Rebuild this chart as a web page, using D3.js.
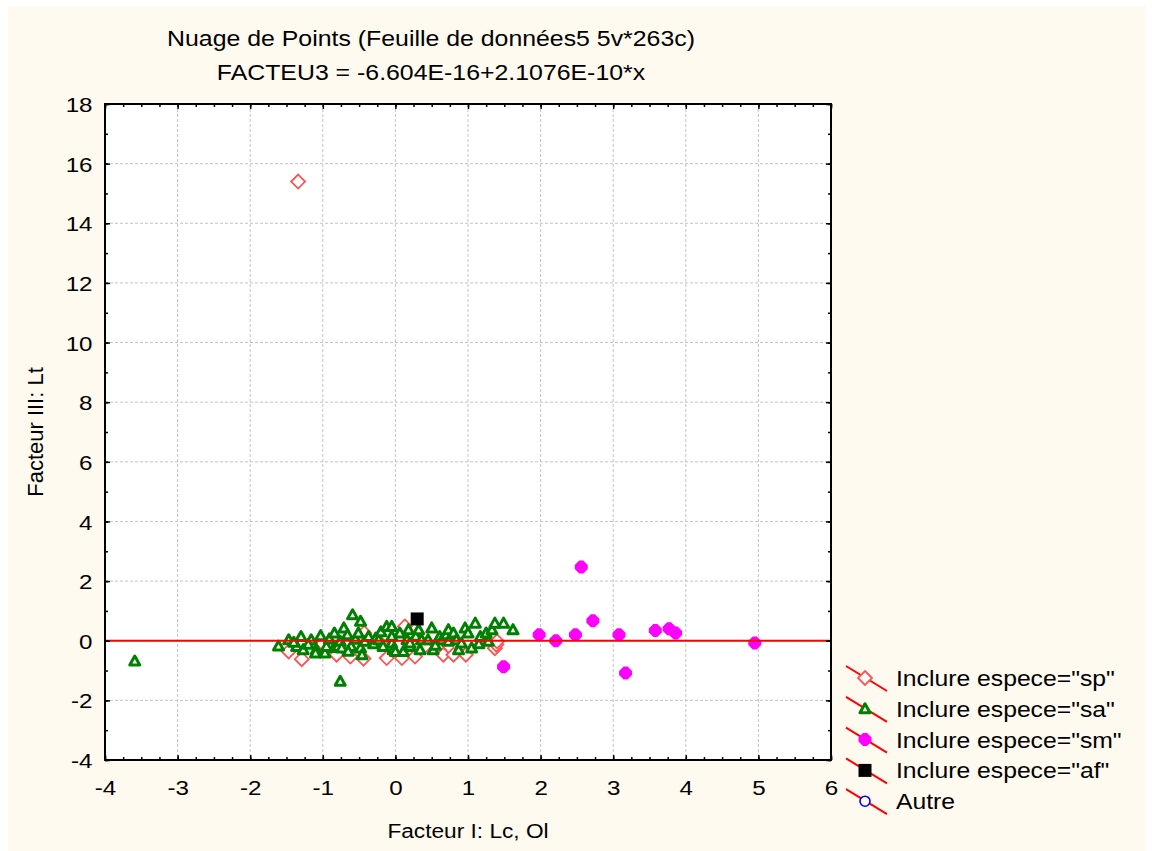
<!DOCTYPE html>
<html>
<head>
<meta charset="utf-8">
<script src="https://cdn.jsdelivr.net/npm/d3@7"></script>
<style>
body { margin: 0; background: #ffffff; }
text { font-family: "Liberation Sans", Arial, sans-serif; fill: #000; }
</style>
</head>
<body>
<div id="chart"></div>
<script>
// values: [Facteur I, Facteur III]
const spPoints = [
    [-1.34, 15.4], [-1.47, -0.36], [-1.29, -0.62], [-1.00, -0.10], [-0.90, -0.30], [-0.81, -0.47],
    [-0.62, -0.53], [-0.44, -0.60], [-0.43, 0.26], [-0.20, -0.10], [-0.12, -0.58], [0.09, -0.58],
    [0.13, 0.48], [0.20, 0.10], [0.27, -0.53], [0.40, -0.20], [0.60, -0.30], [0.66, -0.47],
    [0.80, -0.47], [0.97, -0.47], [1.37, -0.25], [1.39, -0.13], [1.40, -0.02]
];
const saPoints = [
    [-3.59, -0.68], [-0.76, -1.36],
    [-1.61, -0.18], [-1.47, 0.03], [-1.36, -0.19], [-1.30, 0.14], [-1.27, -0.30], [-1.16, 0.03],
    [-1.09, -0.30], [-1.10, -0.41], [-1.03, 0.17], [-0.97, -0.41], [-0.95, -0.19], [-0.91, 0.06],
    [-0.84, 0.26], [-0.84, -0.23], [-0.79, -0.19], [-0.76, -0.02], [-0.74, -0.24], [-0.71, 0.43],
    [-0.66, 0.20], [-0.61, -0.19], [-0.59, 0.87], [-0.55, 0.05], [-0.48, 0.65], [-0.51, 0.26],
    [-0.48, -0.24], [-0.46, -0.47], [-0.42, -0.02], [-0.37, 0.14], [-0.30, -0.10], [-0.27, 0.09],
    [-0.23, 0.03], [-0.20, 0.30], [-0.17, -0.19], [-0.12, 0.48], [-0.05, 0.48], [-0.05, -0.08],
    [-0.05, 0.15], [-0.03, -0.30], [0.00, -0.36], [0.06, 0.26], [0.11, -0.36], [0.16, 0.03],
    [0.18, 0.37], [0.20, -0.19], [0.20, -0.08], [0.28, 0.15], [0.32, 0.37], [0.34, -0.30],
    [0.36, 0.03], [0.45, 0.03], [0.50, 0.43], [0.52, -0.30], [0.55, -0.15], [0.61, 0.14],
    [0.64, 0.03], [0.70, 0.20], [0.73, 0.37], [0.73, -0.02], [0.80, 0.26], [0.84, 0.03],
    [0.87, -0.30], [0.91, -0.08], [0.96, 0.43], [1.00, 0.26], [1.05, -0.24], [1.10, 0.59],
    [1.15, -0.10], [1.17, 0.14], [1.25, 0.26], [1.28, -0.02], [1.33, 0.37], [1.37, 0.59],
    [1.49, 0.59], [1.62, 0.37], [-1.20, -0.12], [-1.40, -0.05], [-0.65, -0.35]
];
const smPoints = [
    [2.56, 2.47], [1.98, 0.20], [2.21, 0.00], [2.48, 0.20], [2.72, 0.67], [1.49, -0.87],
    [3.08, 0.20], [3.17, -1.08], [3.58, 0.34], [3.77, 0.40], [3.86, 0.26], [4.95, -0.08]
];
const afPoints = [[0.30, 0.73]];
const autrePoints = [];

// fitted line FACTEU3 = a + b*x
const intercept = -6.604e-16;
const slope = 2.1076e-10;

const titleLines = ["Nuage de Points (Feuille de données5 5v*263c)", "FACTEU3 = -6.604E-16+2.1076E-10*x"];
const xLabel = "Facteur I: Lc, Ol";
const yLabel = "Facteur III: Lt";
const legendLabels = ['Inclure espece="sp"', 'Inclure espece="sa"', 'Inclure espece="sm"', 'Inclure espece="af"', 'Autre'];
const xTicks = [-4, -3, -2, -1, 0, 1, 2, 3, 4, 5, 6];
const yTicks = [-4, -2, 0, 2, 4, 6, 8, 10, 12, 14, 16, 18];

const W = 1152, H = 851;
const SX = 1.15; // the text in the picture is stretched sideways

const svg = d3.select("#chart").append("svg")
    .attr("width", W)
    .attr("height", H);

svg.append("rect")
    .attr("x", 8).attr("y", 6)
    .attr("width", 1138).attr("height", H - 6)
    .attr("fill", "#fefaef");

const x = d3.scaleLinear().domain([-4, 6]).range([105, 831]);
const y = d3.scaleLinear().domain([-4, 18]).range([760, 104]);

// plot area
svg.append("rect")
    .attr("x", x(-4)).attr("y", y(18))
    .attr("width", x(6) - x(-4)).attr("height", y(-4) - y(18))
    .attr("fill", "#ffffff");

// dashed grid
let grid = svg.append("g")
    .attr("stroke", "#c4c4c4")
    .attr("stroke-width", 1)
    .attr("stroke-dasharray", "3,2");

grid.selectAll(".gx")
    .data(xTicks.slice(1, -1))
    .enter().append("line")
    .attr("x1", d => x(d)).attr("x2", d => x(d))
    .attr("y1", y(18)).attr("y2", y(-4));

grid.selectAll(".gy")
    .data(yTicks.slice(1, -1))
    .enter().append("line")
    .attr("x1", x(-4)).attr("x2", x(6))
    .attr("y1", d => y(d)).attr("y2", d => y(d));

// markers
const markers = {
    sp: g => g.append("path").attr("d", "M0,-7L7,0L0,7L-7,0Z")
        .attr("fill", "#fff").attr("stroke", "#ff5252").attr("stroke-width", 1.8),
    sa: g => g.append("path").attr("d", "M0,-5L5,4L-5,4Z")
        .attr("fill", "#fff").attr("stroke", "#008000").attr("stroke-width", 3)
        .attr("stroke-linejoin", "round"),
    sm: g => g.append("path").attr("d", "M-2,-6.5L2,-6.5L6.5,-2L6.5,2L2,6.5L-2,6.5L-6.5,2L-6.5,-2Z")
        .attr("fill", "#ff00ff"),
    af: g => g.append("rect").attr("x", -6.5).attr("y", -6.5).attr("width", 13).attr("height", 13)
        .attr("fill", "#000"),
    autre: g => g.append("circle").attr("r", 5)
        .attr("fill", "#fff").attr("stroke", "#0000ff").attr("stroke-width", 1.6)
};

const series = [
    { key: "sp", points: spPoints, label: legendLabels[0] },
    { key: "sa", points: saPoints, label: legendLabels[1] },
    { key: "sm", points: smPoints, label: legendLabels[2] },
    { key: "af", points: afPoints, label: legendLabels[3] },
    { key: "autre", points: autrePoints, label: legendLabels[4] }
];

series.forEach(function(s) {
    svg.append("g")
        .attr("class", "series-" + s.key)
        .selectAll("g")
        .data(s.points)
        .enter().append("g")
        .attr("transform", d => "translate(" + x(d[0]) + "," + y(d[1]) + ")")
        .each(function() { markers[s.key](d3.select(this)); });
});

// regression line
svg.append("line")
    .attr("x1", x(-4)).attr("y1", y(intercept + slope * -4))
    .attr("x2", x(6)).attr("y2", y(intercept + slope * 6))
    .attr("stroke", "#ff0000")
    .attr("stroke-width", 2);

// frame
svg.append("rect")
    .attr("x", x(-4)).attr("y", y(18))
    .attr("width", x(6) - x(-4)).attr("height", y(-4) - y(18))
    .attr("fill", "none")
    .attr("stroke", "#000")
    .attr("stroke-width", 2);

const xMinor = d3.range(-4, 6.001, 0.25);
const yMinor = d3.range(-4, 18.001, 1);

function tickAxis(axis, transform) {
    let g = svg.append("g")
        .attr("transform", transform)
        .call(axis);
    g.select(".domain").remove();
    g.selectAll("line").attr("stroke", "#000").attr("stroke-width", 1.5);
    return g;
}

// minor ticks on all four sides, pointing inwards
tickAxis(d3.axisBottom(x).tickValues(xMinor).tickSize(-3).tickFormat(""), "translate(0," + y(-4) + ")");
tickAxis(d3.axisTop(x).tickValues(xMinor).tickSize(-3).tickFormat(""), "translate(0," + y(18) + ")");
tickAxis(d3.axisLeft(y).tickValues(yMinor).tickSize(-3).tickFormat(""), "translate(" + x(-4) + ",0)");
tickAxis(d3.axisRight(y).tickValues(yMinor).tickSize(-3).tickFormat(""), "translate(" + x(6) + ",0)");
tickAxis(d3.axisTop(x).tickValues(xTicks).tickSize(-5).tickFormat(""), "translate(0," + y(18) + ")");
tickAxis(d3.axisRight(y).tickValues(yTicks).tickSize(-5).tickFormat(""), "translate(" + x(6) + ",0)");

// labelled axes
let xAxis = tickAxis(d3.axisBottom(x).tickValues(xTicks).tickSize(-5).tickPadding(20).tickFormat(d => String(d)),
    "translate(0," + y(-4) + ")");
xAxis.attr("font-family", null).attr("font-size", null);
xAxis.selectAll("text")
    .style("font-size", "21px")
    .attr("transform", "scale(" + SX + ",1)");

let yAxis = tickAxis(d3.axisLeft(y).tickValues(yTicks).tickSize(-5).tickPadding(0).tickFormat(d => String(d)),
    "translate(" + x(-4) + ",0)");
yAxis.attr("font-family", null).attr("font-size", null);
yAxis.selectAll("text")
    .style("font-size", "21px")
    .attr("x", 0)
    .attr("dy", "0.36em")
    .attr("transform", "translate(-12.5,0) scale(" + SX + ",1)");

// titles
titleLines.forEach(function(t, i) {
    svg.append("text")
        .attr("transform", "translate(431," + (46 + i * 34) + ") scale(1.13,1)")
        .attr("text-anchor", "middle")
        .style("font-size", "22px")
        .text(t);
});

svg.append("text")
    .attr("transform", "translate(" + x(1) + ",838) scale(1.08,1)")
    .attr("text-anchor", "middle")
    .style("font-size", "21px")
    .text(xLabel);

svg.append("text")
    .attr("transform", "translate(43," + y(7) + ") rotate(-90)")
    .attr("text-anchor", "middle")
    .style("font-size", "22px")
    .text(yLabel);

// legend
let legend = svg.append("g")
    .selectAll("g")
    .data(series)
    .enter().append("g")
    .attr("transform", (d, i) => "translate(865," + (678 + i * 30.8) + ")");

legend.append("line")
    .attr("x1", -19).attr("y1", -12)
    .attr("x2", 22).attr("y2", 13)
    .attr("stroke", "#ff0000")
    .attr("stroke-width", 2);

legend.each(function(d) { markers[d.key](d3.select(this)); });

legend.append("text")
    .attr("transform", "translate(31,8) scale(" + SX + ",1)")
    .style("font-size", "21.5px")
    .text(d => d.label);
</script>
</body>
</html>
